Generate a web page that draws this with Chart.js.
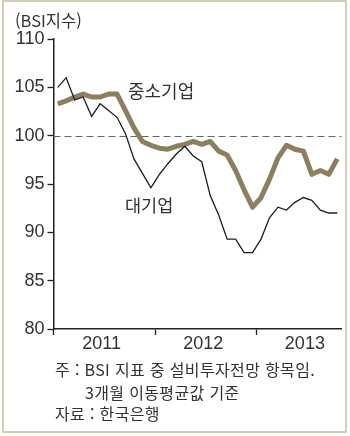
<!DOCTYPE html>
<html lang="ko">
<head>
<meta charset="utf-8">
<script src="https://cdn.jsdelivr.net/npm/chart.js@4.4.1/dist/chart.umd.min.js"></script>
<style>
  html, body { margin: 0; padding: 0; background: #fff; }
  #wrap { position: relative; width: 350px; height: 436px; overflow: hidden; }
  #frame { position: absolute; left: 2px; top: 0; width: 341px; height: 429px; border: 2px solid #d3ccb9; }
  #myChart { position: absolute; left: 0; top: 0; }
  .txt { position: absolute; color: #333; white-space: nowrap; line-height: 1;
         font-family: "Noto Sans CJK KR", "Liberation Sans", sans-serif; }
  .note { font-size: 16px; letter-spacing: 0.35px; }
</style>
</head>
<body>
<div id="wrap">
  <canvas id="myChart" width="350" height="436"></canvas>
  <div id="frame"></div>
  <div class="txt" style="left:15px; top:12px; font-size:16.5px;">(BSI지수)</div>
  <div class="txt" style="left:128px; top:81px; font-size:18px;">중소기업</div>
  <div class="txt" style="left:125px; top:196px; font-size:17.5px;">대기업</div>
  <div class="txt note" style="left:55px; top:361px;">주 : BSI 지표 중 설비투자전망 항목임.</div>
  <div class="txt note" style="left:85px; top:384px;">3개월 이동평균값 기준</div>
  <div class="txt note" style="left:55px; top:405px;">자료 : 한국은행</div>
</div>
<script>
// monthly points, Jan 2011 - Oct 2013
const months = [
  '11.1', '11.2', '11.3', '11.4', '11.5', '11.6', '11.7', '11.8', '11.9', '11.10', '11.11', '11.12',
  '12.1', '12.2', '12.3', '12.4', '12.5', '12.6', '12.7', '12.8', '12.9', '12.10', '12.11', '12.12',
  '13.1', '13.2', '13.3', '13.4', '13.5', '13.6', '13.7', '13.8', '13.9', '13.10'
];
const years = ['2011', '2012', '2013'];

// 대기업
const largeFirms = [
  105.0, 106.0, 103.7, 104.0, 102.0, 103.3, 102.6, 101.9, 100.2, 97.6, 96.1, 94.6,
  96.0, 97.1, 98.1, 98.9, 97.9, 97.3, 93.8, 91.8, 89.3, 89.3, 87.9, 87.9,
  89.3, 91.5, 92.6, 92.3, 93.1, 93.6, 93.3, 92.3, 92.0, 92.0
];
// 중소기업
const smallFirms = [
  103.3, 103.6, 104.0, 104.3, 104.0, 104.0, 104.3, 104.3, 102.6, 100.8, 99.4, 99.0,
  98.7, 98.6, 98.9, 99.1, 99.4, 99.1, 99.4, 98.4, 98.0, 96.4, 94.4, 92.6,
  93.6, 95.5, 97.7, 99.0, 98.6, 98.4, 96.0, 96.4, 96.0, 97.6
];
const baseline = 100;

const axisColor = '#222';
const textColor = '#333';
const numFont = { family: '"Liberation Sans", Arial, sans-serif', size: 18 };

// dashed line across the plot at the 100 level
const baselinePlugin = {
  id: 'baseline',
  beforeDatasetsDraw(chart) {
    const { ctx, chartArea, scales } = chart;
    const y = Math.round(scales.y.getPixelForValue(baseline)) + 0.5;
    ctx.save();
    ctx.strokeStyle = '#666';
    ctx.lineWidth = 1;
    ctx.setLineDash([7, 4]);
    ctx.beginPath();
    ctx.moveTo(chartArea.left, y);
    ctx.lineTo(chartArea.right, y);
    ctx.stroke();
    ctx.restore();
  }
};

window.onload = () => {
  const ctx = document.getElementById('myChart');
  new Chart(ctx, {
    type: 'line',
    data: {
      labels: months,
      datasets: [
        {
          label: '대기업',
          data: largeFirms,
          borderColor: '#1e1e1e',
          borderWidth: 1.3,
          pointRadius: 0,
          tension: 0,
          fill: false
        },
        {
          label: '중소기업',
          data: smallFirms,
          borderColor: '#8b7f5f',
          borderWidth: 5,
          borderJoinStyle: 'round',
          pointRadius: 0,
          tension: 0,
          fill: false
        }
      ]
    },
    options: {
      responsive: false,
      animation: false,
      events: [],
      layout: { padding: { top: 39, right: 8.5, left: 0, bottom: 0 } },
      plugins: { legend: { display: false }, tooltip: { enabled: false } },
      scales: {
        x: {
          type: 'category',
          offset: true,
          grid: {
            offset: true,
            drawOnChartArea: false,
            tickLength: 6,
            tickWidth: 1.3,
            tickColor: c => (c.index % 12 === 0 ? axisColor : 'rgba(0,0,0,0)')
          },
          border: { color: axisColor, width: 1.5 },
          ticks: {
            autoSkip: false,
            maxRotation: 0,
            padding: -2,
            labelOffset: 1.5,
            color: textColor,
            font: numFont,
            callback: (v, i) => (i % 12 === 5 ? years[Math.floor(i / 12)] : '')
          },
          afterFit: s => { s.height = 107; }
        },
        y: {
          min: 80,
          max: 110,
          ticks: { stepSize: 5, padding: 3, color: textColor, font: numFont },
          grid: { drawOnChartArea: false, tickLength: 6, tickWidth: 1.3, tickColor: axisColor },
          border: { color: axisColor, width: 1.5 },
          afterFit: s => { s.width = 53.5; }
        }
      }
    },
    plugins: [baselinePlugin]
  });
};
</script>
</body>
</html>
